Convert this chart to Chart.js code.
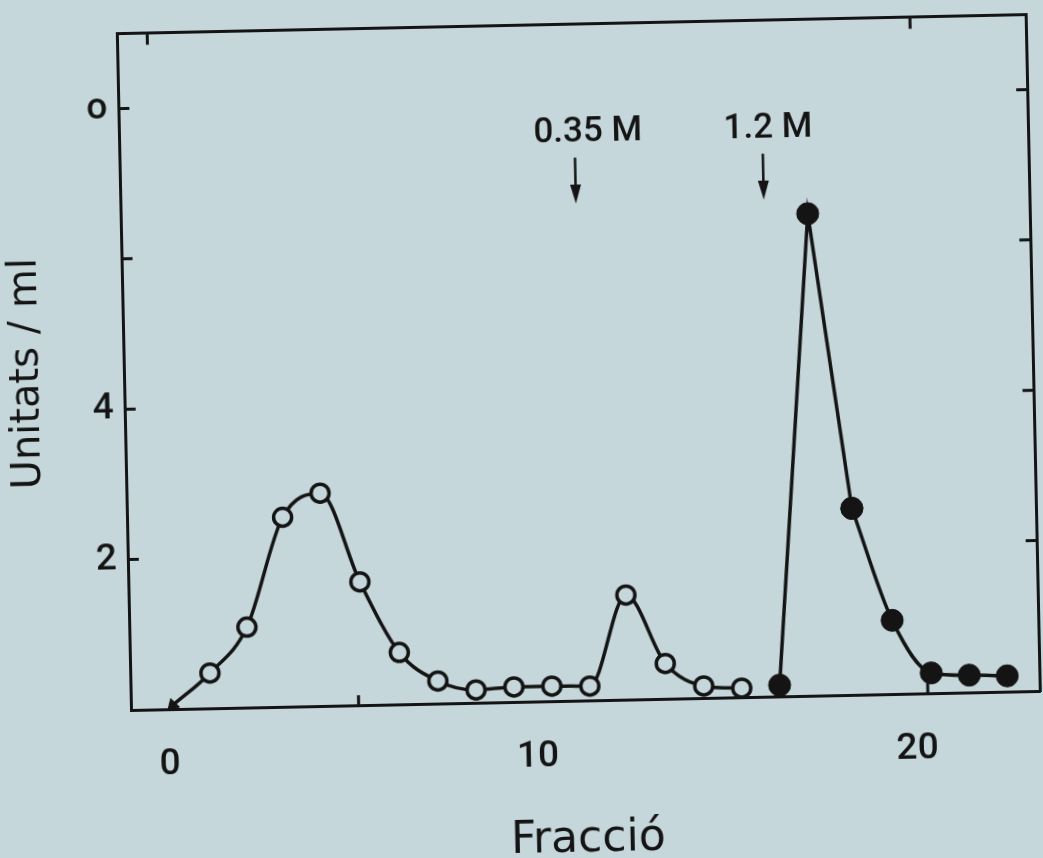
<!DOCTYPE html>
<html>
<head>
<meta charset="utf-8">
<script src="https://cdn.jsdelivr.net/npm/chart.js@4.4.1/dist/chart.umd.min.js"></script>
<style>
  html, body { margin: 0; padding: 0; background: #c6d7db; overflow: hidden; width: 1043px; height: 858px; }
  #wrap { position: absolute; left: 0; top: 0; width: 1043px; height: 900px;
          transform-origin: 131px 710px; transform: rotate(-1.2deg); }
  canvas { display: block; }
</style>
</head>
<body>
<div id="wrap"><canvas id="c" width="1043" height="900"></canvas></div>
<script>
// ---- data ----
const openFractions   = [0, 1, 2, 3, 4, 5, 6, 7, 8, 9, 10, 11, 12, 13, 14, 15];
const openValues      = [0.05, 0.47, 1.07, 2.52, 2.83, 1.64, 0.69, 0.30, 0.17, 0.20, 0.20, 0.19, 1.39, 0.47, 0.16, 0.12];
const filledFractions = [16, 17, 18, 19, 20, 21, 22];
const filledValues    = [0.15, 6.41, 2.48, 0.98, 0.27, 0.23, 0.21];

// tick labels (placed where the figure prints them)
const xTickValues = [-0.1, 9.6, 19.6];
const xTickLabels = ['0', '10', '20'];
const yTickValues = [2, 4, 8];
const yTickLabels = ['2', '4', 'o'];
// inward tick marks
const yTickMarks = [2, 4, 6, 8];
const xTickMarksBottom = [4.9, 19.9];
const xTickMarksTop = [-0.3, 19.8];

// salt step annotations
const saltLabels = ['0.35 M', '1.2 M'];
const saltArrowX = [10.9, 15.85];
const saltLabelX = [11.25, 16.0];

const INK = '#141414';
const PAPER = '#c6d7db';

const openPoints = openFractions.map((f, i) => ({ x: f, y: openValues[i] }));
const filledPoints = filledFractions.map((f, i) => ({ x: f, y: filledValues[i] }));
const filledRise = filledPoints.slice(0, 3);
const filledTail = filledPoints.slice(2);

const frameMarks = {
  id: 'frameMarks',
  afterDraw(chart) {
    const { ctx, chartArea: a, scales: { x, y } } = chart;
    ctx.save();
    ctx.strokeStyle = INK;
    ctx.fillStyle = INK;
    ctx.lineWidth = 3;
    ctx.beginPath();
    yTickMarks.forEach(v => {
      const py = y.getPixelForValue(v);
      ctx.moveTo(a.left, py); ctx.lineTo(a.left + 11, py);
      ctx.moveTo(a.right, py); ctx.lineTo(a.right - 11, py);
    });
    xTickMarksBottom.forEach(v => {
      const px = x.getPixelForValue(v);
      ctx.moveTo(px, a.bottom); ctx.lineTo(px, a.bottom - 10);
    });
    xTickMarksTop.forEach(v => {
      const px = x.getPixelForValue(v);
      ctx.moveTo(px, a.top); ctx.lineTo(px, a.top + 12);
    });
    ctx.stroke();

    saltLabels.forEach((txt, i) => {
      const ax = x.getPixelForValue(saltArrowX[i]);
      const yTop = y.getPixelForValue(7.22);
      const yTip = y.getPixelForValue(6.61);
      ctx.lineWidth = 2.5;
      ctx.beginPath();
      ctx.moveTo(ax, yTop); ctx.lineTo(ax, yTip - 14);
      ctx.stroke();
      ctx.beginPath();
      ctx.moveTo(ax - 5.5, yTip - 19);
      ctx.lineTo(ax + 5.5, yTip - 19);
      ctx.lineTo(ax, yTip);
      ctx.closePath();
      ctx.fill();
      ctx.font = '500 35px Roboto';
      ctx.textAlign = 'center';
      ctx.textBaseline = 'middle';
      ctx.fillText(txt, x.getPixelForValue(saltLabelX[i]), y.getPixelForValue(7.55));
    });
    ctx.restore();
  }
};

const filledStyle = {
  borderColor: INK,
  borderWidth: 3.5,
  pointStyle: 'circle',
  pointRadius: 11,
  pointBackgroundColor: INK,
  pointBorderColor: INK,
  pointBorderWidth: 1,
  fill: false
};

new Chart(document.getElementById('c'), {
  type: 'line',
  data: {
    datasets: [
      {
        label: 'open',
        data: openPoints,
        borderColor: INK,
        borderWidth: 3.5,
        cubicInterpolationMode: 'monotone',
        pointStyle: openFractions.map((f, i) => i === 0 ? 'triangle' : 'circle'),
        pointRadius: openFractions.map((f, i) => i === 0 ? 7 : 9),
        pointRotation: openFractions.map((f, i) => i === 0 ? 225 : 0),
        pointBackgroundColor: openFractions.map((f, i) => i === 0 ? INK : PAPER),
        pointBorderColor: INK,
        pointBorderWidth: openFractions.map((f, i) => i === 0 ? 1 : 3.5),
        fill: false
      },
      Object.assign({ label: 'filled', data: filledRise, tension: 0 }, filledStyle),
      Object.assign({ label: 'filled tail', data: filledTail, cubicInterpolationMode: 'monotone' }, filledStyle)
    ]
  },
  options: {
    responsive: false,
    animation: false,
    devicePixelRatio: 1,
    layout: { padding: 0, autoPadding: false },
    plugins: { legend: { display: false }, tooltip: { enabled: false } },
    scales: {
      x: {
        type: 'linear', position: 'bottom', min: -1.1, max: 22.85,
        afterBuildTicks: s => { s.ticks = xTickValues.map(v => ({ value: v })); },
        afterFit: s => { s.height = 190; },
        grid: { display: false, drawTicks: false },
        border: { display: true, color: INK, width: 3 },
        ticks: { color: INK, font: { family: 'Roboto', size: 37, weight: '500' }, padding: 34, autoSkip: false, maxRotation: 0,
                 callback: v => { const k = xTickValues.indexOf(v); return k >= 0 ? xTickLabels[k] : ''; } },
        title: { display: true, text: 'Fracció', color: INK, font: { family: 'DejaVu Sans', size: 44 }, padding: { top: 0, bottom: 24 } }
      },
      x2: {
        type: 'linear', position: 'top', min: -1.1, max: 22.85,
        afterFit: s => { s.height = 32; },
        grid: { display: false, drawTicks: false },
        border: { display: true, color: INK, width: 3 },
        ticks: { display: false }
      },
      y: {
        type: 'linear', position: 'left', min: 0, max: 9,
        afterBuildTicks: s => { s.ticks = yTickValues.map(v => ({ value: v })); },
        afterFit: s => { s.width = 131; },
        grid: { display: false, drawTicks: false },
        border: { display: true, color: INK, width: 3 },
        ticks: { color: INK, font: { family: 'Roboto', size: 37, weight: '500' }, padding: 11,
                 callback: v => { const k = yTickValues.indexOf(v); return k >= 0 ? yTickLabels[k] : ''; } },
        title: { display: true, text: 'Unitats / ml', color: INK, font: { family: 'DejaVu Sans', size: 40 }, padding: { top: 11, bottom: 0 } }
      },
      y2: {
        type: 'linear', position: 'right', min: 0, max: 9,
        afterFit: s => { s.width = 3; },
        grid: { display: false, drawTicks: false },
        border: { display: true, color: INK, width: 3 },
        ticks: { display: false }
      }
    }
  },
  plugins: [frameMarks]
});
</script>
</body>
</html>
